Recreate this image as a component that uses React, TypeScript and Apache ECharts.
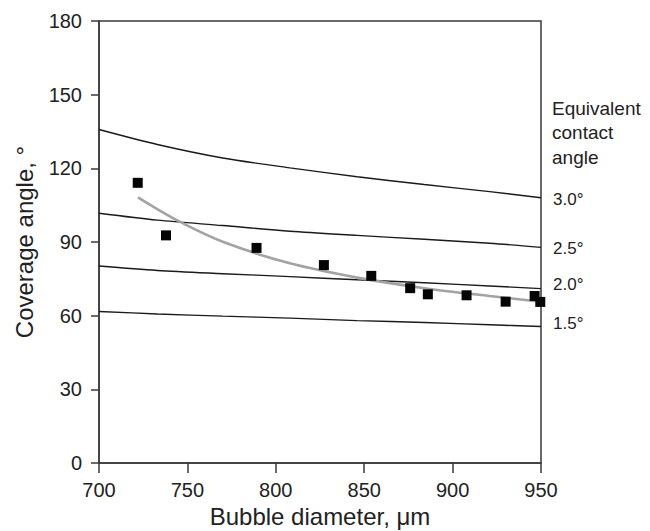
import React, { useEffect, useRef } from "react";
import * as echarts from "echarts";

const xTicks = [700, 750, 800, 850, 900, 950];
const yTicks = [0, 30, 60, 90, 120, 150, 180];

const theoryX = [700, 733, 770, 808, 846, 884, 921, 950];
const angle30 = [135.8, 129.7, 124.2, 120.2, 116.6, 113.4, 110.5, 108.0];
const angle25 = [101.7, 98.9, 96.7, 94.4, 92.7, 91.1, 89.5, 87.8];
const angle20 = [80.2, 78.4, 77.1, 75.9, 74.6, 73.4, 72.1, 71.0];
const angle15 = [61.7, 60.7, 59.8, 59.0, 58.0, 57.2, 56.3, 55.6];

const measuredX = [721.9, 737.9, 789.1, 827.2, 854.0, 876.0, 886.0, 907.9, 930.0, 946.4, 949.6];
const measuredY = [114.1, 92.7, 87.6, 80.6, 76.2, 71.2, 68.7, 68.3, 65.7, 68.0, 65.6];

const fitX = [722, 744, 770, 808, 846, 884, 921, 950];
const fitY = [108.2, 98.9, 90.1, 81.3, 75.5, 71.2, 68.0, 65.7];

const FONT = "'Liberation Sans', Arial, sans-serif";

const zip = (xs: number[], ys: number[]) => xs.map((x, i) => [x, ys[i]]);

export default function App() {
  const ref = useRef<HTMLDivElement>(null);
  useEffect(() => {
    if (!ref.current) return;
    const chart = echarts.init(ref.current, null, { renderer: "svg" });
    const theory = (name: string, data: number[], label: string, offY: number) => ({
      type: "line",
      name,
      data: zip(theoryX, data),
      smooth: 0.3,
      showSymbol: false,
      symbol: "none",
      lineStyle: { color: "#1a1a1a", width: 1.4 },
      z: 2,
      endLabel: {
        show: true,
        formatter: label,
        distance: 12,
        offset: [0, offY],
        fontSize: 17,
        color: "#222",
        fontFamily: FONT,
      },
    });
    chart.setOption({
      animation: false,
      textStyle: { fontFamily: FONT },
      grid: {
        left: 99,
        right: 109,
        top: 21,
        bottom: 68,
        containLabel: false,
        outerBoundsMode: "none",
        show: true,
        borderColor: "#3a3a3a",
        borderWidth: 1.5,
        backgroundColor: "transparent",
      },
      xAxis: {
        type: "value",
        min: 700,
        max: 950,
        interval: 50,
        name: "Bubble diameter, μm",
        nameLocation: "middle",
        nameGap: 39,
        nameTextStyle: { fontSize: 24, color: "#222", fontFamily: FONT },
        axisLine: { show: true, lineStyle: { color: "#3a3a3a", width: 1.5 } },
        axisTick: { show: true, inside: false, length: 10, lineStyle: { color: "#3a3a3a", width: 1.5 } },
        axisLabel: {
          fontSize: 20,
          color: "#222",
          margin: 17,
          fontFamily: FONT,
          formatter: (v: number) => (xTicks.includes(v) ? String(v) : ""),
        },
        splitLine: { show: false },
      },
      yAxis: {
        type: "value",
        min: 0,
        max: 180,
        interval: 30,
        name: "Coverage angle, °",
        nameLocation: "middle",
        nameGap: 63,
        nameTextStyle: { fontSize: 24, color: "#222", fontFamily: FONT },
        axisLine: { show: true, lineStyle: { color: "#3a3a3a", width: 1.5 } },
        axisTick: { show: true, inside: false, length: 8, lineStyle: { color: "#3a3a3a", width: 1.5 } },
        axisLabel: {
          fontSize: 20,
          color: "#222",
          margin: 17,
          fontFamily: FONT,
          formatter: (v: number) => (yTicks.includes(v) ? String(v) : ""),
        },
        splitLine: { show: false },
      },
      graphic: [
        {
          type: "text",
          left: 552,
          top: 96,
          style: {
            text: "Equivalent\ncontact\nangle",
            fontSize: 19,
            lineHeight: 24.5,
            fill: "#222",
            fontFamily: FONT,
          },
        },
      ],
      series: [
        theory("3.0", angle30, "3.0°", 2),
        theory("2.5", angle25, "2.5°", 1),
        theory("2.0", angle20, "2.0°", -4),
        theory("1.5", angle15, "1.5°", -3),
        {
          type: "line",
          name: "fit",
          data: zip(fitX, fitY),
          smooth: 0.3,
          showSymbol: false,
          symbol: "none",
          lineStyle: { color: "#a3a3a3", width: 2.6 },
          z: 3,
        },
        {
          type: "scatter",
          name: "measured",
          data: zip(measuredX, measuredY),
          symbol: "rect",
          symbolSize: 10,
          itemStyle: { color: "#050505", opacity: 1 },
          z: 4,
        },
      ],
    });
    return () => chart.dispose();
  }, []);
  return (
    <div
      ref={ref}
      style={{ position: "fixed", left: 0, top: 0, width: 650, height: 531, background: "#fff" }}
    />
  );
}
